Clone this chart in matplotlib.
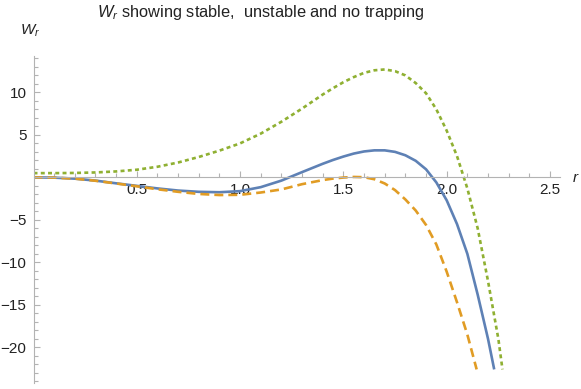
import matplotlib.pyplot as plt
import numpy as np

plt.rcParams['font.family'] = ['Liberation Sans', 'DejaVu Sans']
plt.rcParams['mathtext.fontset'] = 'custom'
plt.rcParams['mathtext.it'] = 'Liberation Sans:italic'
plt.rcParams['mathtext.rm'] = 'Liberation Sans'

# values
r_blue = [0, 0.1, 0.2, 0.3, 0.4, 0.5, 0.6, 0.7, 0.8, 0.9, 1.0, 1.1, 1.2, 1.3, 1.4,
          1.45, 1.5, 1.55, 1.6, 1.65, 1.7, 1.75, 1.8, 1.85, 1.9, 1.95, 2.0, 2.05,
          2.1, 2.15, 2.2, 2.23]
w_blue = [0, -0.03, -0.15, -0.38, -0.7, -1.0, -1.3, -1.55, -1.7, -1.75, -1.62, -1.15,
          -0.38, 0.62, 1.6, 2.05, 2.45, 2.8, 3.05, 3.18, 3.18, 3.0, 2.6, 1.95, 0.95,
          -0.6, -2.7, -5.5, -9.0, -13.8, -19.0, -22.6]

r_orange = [0, 0.1, 0.2, 0.3, 0.4, 0.5, 0.6, 0.7, 0.8, 0.9, 1.0, 1.1, 1.2, 1.3, 1.4,
            1.45, 1.5, 1.55, 1.6, 1.65, 1.7, 1.75, 1.8, 1.85, 1.9, 1.95, 2.0, 2.05,
            2.1, 2.145]
w_orange = [0, -0.03, -0.15, -0.4, -0.72, -1.05, -1.4, -1.7, -1.95, -2.08, -2.05,
            -1.78, -1.42, -0.8, -0.32, -0.14, -0.02, 0.05, 0.02, -0.22, -0.72, -1.5,
            -2.6, -3.9, -5.6, -7.9, -11.1, -14.7, -18.5, -22.6]

r_green = [0, 0.1, 0.2, 0.3, 0.4, 0.5, 0.6, 0.7, 0.8, 0.9, 1.0, 1.1, 1.2, 1.3, 1.4,
           1.45, 1.5, 1.55, 1.6, 1.65, 1.7, 1.75, 1.8, 1.85, 1.9, 1.95, 2.0, 2.05,
           2.1, 2.15, 2.2, 2.25, 2.27]
w_green = [0.5, 0.5, 0.52, 0.58, 0.7, 0.9, 1.25, 1.75, 2.4, 3.15, 4.0, 5.15, 6.55,
           8.1, 9.75, 10.5, 11.2, 11.8, 12.3, 12.6, 12.7, 12.5, 12.0, 11.1, 9.9, 8.0,
           5.5, 2.5, -1.3, -6.0, -12.2, -19.0, -22.6]

x_major = [0.5, 1.0, 1.5, 2.0, 2.5]
y_major = [-20, -15, -10, -5, 5, 10]

fig = plt.figure(figsize=(5.81, 3.89), dpi=100)
ax = fig.add_axes([0.0577, 0.0154, 0.9067, 0.841])

ax.plot(r_blue, w_blue, color='#5E81B5', lw=1.9, solid_capstyle='butt',
        solid_joinstyle='round')
ax.plot(r_orange, w_orange, color='#E19C24', lw=1.9, dashes=(3.4, 1.9),
        dash_capstyle='butt')
ax.plot(r_green, w_green, color='#8FB032', lw=1.9, dashes=(1.5, 1.25),
        dash_capstyle='butt')

ax.set_xlim(0, 2.55)
ax.set_ylim(-24.2, 14.3)

for s in ['top', 'right']:
    ax.spines[s].set_visible(False)
ax.spines['bottom'].set_position(('data', 0))
ax.spines['left'].set_position(('data', 0))
for s in ['bottom', 'left']:
    ax.spines[s].set_color('#b3b3b3')
    ax.spines[s].set_linewidth(0.8)

ax.set_xticks(x_major)
ax.set_xticklabels(['0.5', '1.0', '1.5', '2.0', '2.5'])
ax.set_xticks(np.arange(0.1, 2.55, 0.1), minor=True)
ax.set_yticks(y_major)
ax.set_yticks(np.arange(-24, 15, 1), minor=True)

ax.tick_params(which='both', direction='in', color='#b3b3b3', width=0.8,
               labelsize=11, labelcolor='#222222')
ax.tick_params(which='major', length=4.3)
ax.tick_params(which='minor', length=2.6)
ax.tick_params(axis='x', pad=4)
ax.tick_params(axis='y', pad=5)

fig.text(261 / 581, 1 - 12 / 389, r'$W_r$ showing stable,  unstable and no trapping',
         ha='center', va='center', fontsize=11.8, color='#222222')
fig.text(30 / 581, 1 - 31 / 389, r'$W_r$', ha='center', va='center',
         fontsize=11, color='#222222')
fig.text(576 / 581, 1 - 178 / 389, r'$r$', ha='center', va='center',
         fontsize=11, color='#222222')

fig.savefig('out.png', dpi=100)
